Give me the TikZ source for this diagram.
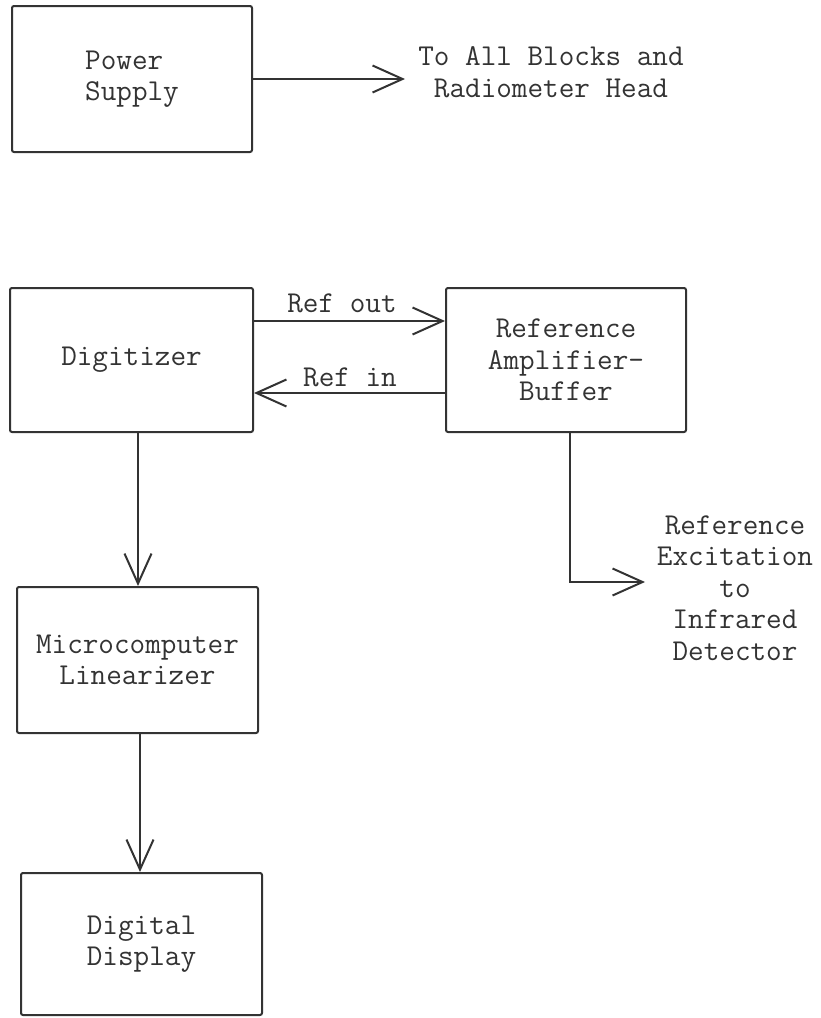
\documentclass[tikz,border=0pt]{standalone}
\usepackage{fontspec}
\usetikzlibrary{arrows.meta}
\definecolor{ink}{HTML}{333333}
\begin{document}
\begin{tikzpicture}[x=1pt,y=-1pt,
  txt/.style={text=ink, inner sep=0pt, font=\ttfamily\fontsize{30.3}{31.5}\selectfont},
  blk/.style={txt, draw=ink, line width=2pt, rounded corners=2pt},
  arr/.style={draw=ink, line width=2pt, -{Straight Barb[length=30pt,width=27pt,line width=2pt]}},
  ln/.style={draw=ink, line width=2pt}]
\useasboundingbox (0,0) rectangle (820,1018);

% blocks
\node[blk, align=left, minimum width=240pt, minimum height=146pt] (ps) at (132,79) {Power\\Supply};
\node[blk, minimum width=243pt, minimum height=144pt] (dig) at (131.5,360) {Digitizer};
\node[blk, align=center, minimum width=240pt, minimum height=144pt] (ra) at (566,360) {Reference\\Amplifier-\\Buffer};
\node[blk, align=center, minimum width=241pt, minimum height=146pt] (mc) at (137.5,660) {Microcomputer\\Linearizer};
\node[blk, align=left, minimum width=241pt, minimum height=142pt] (dd) at (141.5,944) {Digital\\Display};

% free texts
\node[txt, align=center] (to) at (551,72) {To All Blocks and\\Radiometer Head};
\node[txt] (refout) at (342,303) {Ref out};
\node[txt] (refin) at (350,377) {Ref in};
\node[txt, align=center] (exctxt) at (735,588) {Reference\\Excitation\\to\\Infrared\\Detector};

% connector end points
\coordinate (psend) at (405,79);
\coordinate (excend) at (645,582);

% connectors
\draw[arr] (ps.east) -- (psend);
\draw[arr] (dig.east |- 0,321) -- (ra.west |- 0,321);
\draw[arr] (ra.west |- 0,393) -- (dig.east |- 0,393);
\draw[arr] (dig.south -| 138,0) -- (mc.north -| 138,0);
\draw[arr] (mc.south -| 140,0) -- (dd.north -| 140,0);
\draw[arr] (ra.south -| 570,0) |- (excend);
\end{tikzpicture}
\end{document}
